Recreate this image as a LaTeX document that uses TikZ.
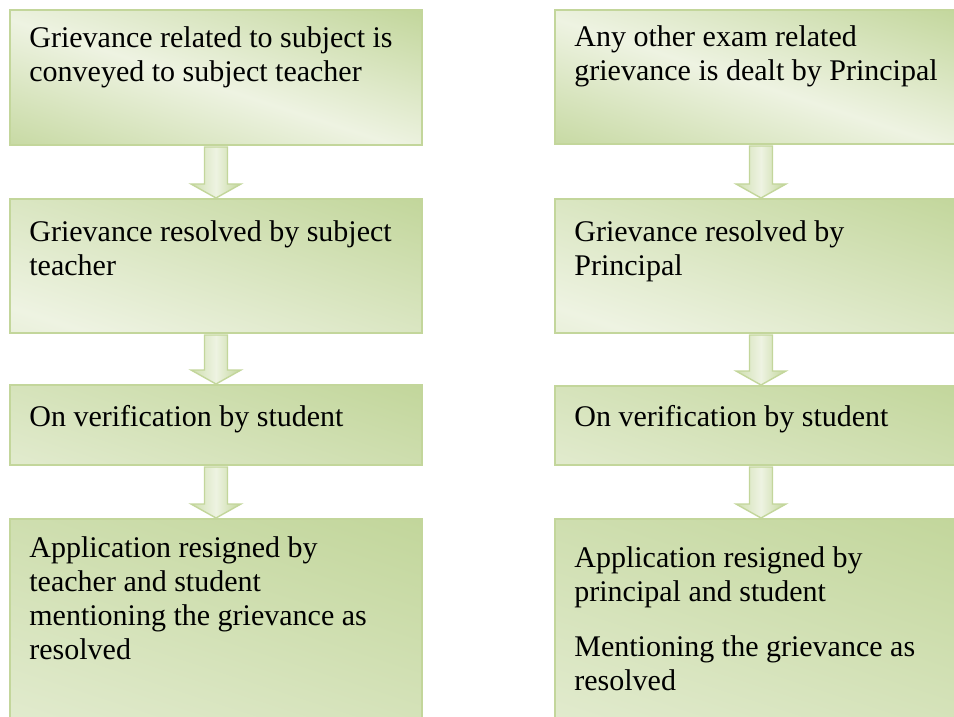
\documentclass[tikz,border=0pt]{standalone}
\usepackage{fontspec}
\setmainfont{Liberation Serif}
\usetikzlibrary{calc}
\definecolor{vertfonce}{HTML}{C2D69B}
\definecolor{vertclair}{HTML}{EEF3E2}
\definecolor{bordvert}{HTML}{C3D69B}
\begin{document}
\begin{tikzpicture}[x=0.5pt, y=-0.5pt]
	\tikzset{boite/.style={rectangle, draw=bordvert, line width=1pt, minimum width=206pt, minimum height=#1, inner sep=0pt,
			path picture={\pgflowlevelsynccm
				\shade[transform canvas={rotate=-18}, top color=vertfonce, bottom color=vertfonce, middle color=vertclair]
				(-400pt,{-(31.9pt+0.475*#1)}) rectangle (400pt,{31.9pt+0.475*#1});}},
		texte/.style={anchor=north west, inner sep=0pt, align=left, font=\fontsize{15pt}{17pt}\selectfont},
		grossefleche/.style={draw=bordvert, line width=0.7pt, left color=vertfonce!80, right color=vertfonce, middle color=vertclair}};

	\clip (0,0) rectangle (954,717);

	\node[boite=67.5pt] (g1) at (216, 77.5) {};
	\node[boite=67pt]   (g2) at (216,  266) {};
	\node[boite=40pt]   (g3) at (216,  425) {};
	\node[boite=105.5pt] (g4) at (216, 624.5) {};

	\node[boite=67pt]   (d1) at (761,   77) {};
	\node[boite=67pt]   (d2) at (761,  266) {};
	\node[boite=39.5pt] (d3) at (761, 425.5) {};
	\node[boite=105.5pt] (d4) at (761, 624.5) {};

	\node[texte] (tg1) at ($(g1.north west)+(20,14.2)$) {\strut Grievance related to subject is\\conveyed to subject teacher};
	\node[texte] (tg2) at ($(g2.north west)+(20,19.2)$) {\strut Grievance resolved by subject\\teacher};
	\node[texte] (tg3) at ($(g3.north west)+(20,18.2)$) {\strut On verification by student};
	\node[texte] (tg4) at ($(g4.north west)+(20,15.2)$) {\strut Application resigned by\\teacher and student\\mentioning the grievance as\\resolved};

	\node[texte] (td1) at ($(d1.north west)+(20,13.2)$) {\strut Any other exam related\\grievance is dealt by Principal};
	\node[texte] (td2) at ($(d2.north west)+(20,19.2)$) {\strut Grievance resolved by\\Principal};
	\node[texte] (td3) at ($(d3.north west)+(20,17.2)$) {\strut On verification by student};
	\node[texte] (td4) at ($(d4.north west)+(20,25.2)$) {\strut Application resigned by\\principal and student\\[10.5pt]Mentioning the grievance as\\resolved};

	\draw[grossefleche] ($(g1.south)+(-11.5,1)$) -- ($(g2.north)+(-11.5,-14)$) -- ($(g2.north)+(-25,-14)$) -- (g2.north) -- ($(g2.north)+(25,-14)$) -- ($(g2.north)+(11.5,-14)$) -- ($(g1.south)+(11.5,1)$) -- cycle;
	\draw[grossefleche] ($(g2.south)+(-11.5,1)$) -- ($(g3.north)+(-11.5,-14)$) -- ($(g3.north)+(-25,-14)$) -- (g3.north) -- ($(g3.north)+(25,-14)$) -- ($(g3.north)+(11.5,-14)$) -- ($(g2.south)+(11.5,1)$) -- cycle;
	\draw[grossefleche] ($(g3.south)+(-11.5,1)$) -- ($(g4.north)+(-11.5,-14)$) -- ($(g4.north)+(-25,-14)$) -- (g4.north) -- ($(g4.north)+(25,-14)$) -- ($(g4.north)+(11.5,-14)$) -- ($(g3.south)+(11.5,1)$) -- cycle;

	\draw[grossefleche] ($(d1.south)+(-11.5,1)$) -- ($(d2.north)+(-11.5,-14)$) -- ($(d2.north)+(-25,-14)$) -- (d2.north) -- ($(d2.north)+(25,-14)$) -- ($(d2.north)+(11.5,-14)$) -- ($(d1.south)+(11.5,1)$) -- cycle;
	\draw[grossefleche] ($(d2.south)+(-11.5,1)$) -- ($(d3.north)+(-11.5,-14)$) -- ($(d3.north)+(-25,-14)$) -- (d3.north) -- ($(d3.north)+(25,-14)$) -- ($(d3.north)+(11.5,-14)$) -- ($(d2.south)+(11.5,1)$) -- cycle;
	\draw[grossefleche] ($(d3.south)+(-11.5,1)$) -- ($(d4.north)+(-11.5,-14)$) -- ($(d4.north)+(-25,-14)$) -- (d4.north) -- ($(d4.north)+(25,-14)$) -- ($(d4.north)+(11.5,-14)$) -- ($(d3.south)+(11.5,1)$) -- cycle;

\end{tikzpicture}
\end{document}
